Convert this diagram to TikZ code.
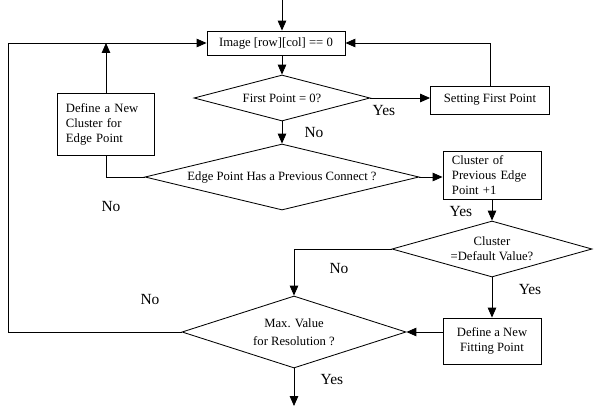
\documentclass[tikz,border=0pt]{standalone}
\usepackage{fontspec}
\setmainfont{Liberation Serif}
\usetikzlibrary{shapes.geometric,arrows.meta}

\begin{document}
\begin{tikzpicture}[x=0.025cm, y=-0.025cm, line width=0.6pt, >={Triangle[length=7pt,width=6pt]},
        box/.style={draw, rectangle, inner sep=2pt, font=\fontsize{9}{10.7}\selectfont, align=center},
        test/.style={draw, diamond, aspect=3.5, inner sep=0pt, font=\fontsize{9}{10.7}\selectfont, align=center},
        ans/.style={font=\fontsize{11}{13}\selectfont}]
    \useasboundingbox (0,0) rectangle (600,410);

    \node[box, minimum width=3.45cm, minimum height=0.6cm] (img) at (276,43) {Image [row][col] == 0};
    \node[test, minimum width=4.4cm, minimum height=1.15cm] (first) at (282,98) {First Point = 0?};
    \node[box, minimum width=2.975cm, minimum height=0.7cm] (setf) at (490,100) {Setting First Point};
    \node[box, minimum width=2.425cm, minimum height=1.55cm, text width=2cm, align=left] (newc) at (106,124) {Define a New\\ Cluster for\\ Edge Point};
    \node[test, minimum width=6.85cm, minimum height=1.65cm] (edge) at (282,177) {Edge Point Has a Previous Connect ?};
    \node[box, minimum width=2.45cm, minimum height=1.2cm, text width=2cm, align=left] (prev) at (492,175) {Cluster of\\ Previous Edge\\ Point +1};
    \node[test, minimum width=5cm, minimum height=1.4cm] (clu) at (492,249) {Cluster\\ =Default Value?};
    \node[box, minimum width=2.45cm, minimum height=1.15cm] (fit) at (492,341) {Define a New\\ Fitting Point};
    \node[test, minimum width=5.6cm, minimum height=1.8cm, font=\fontsize{9}{13}\selectfont] (max) at (294,332) {Max. Value\\ for Resolution ?};

    \coordinate (start) at (282,0);
    \coordinate (lft) at (8,0);
    \coordinate (stop) at (294,406);

    \draw [->] (start) -- (start |- img.north);
    \draw [->] (first.north |- img.south) -- (first.north);
    \draw [->] (first.east) -- (first.east -| setf.west);
    \draw [->] (setf.north) |- (img.east);
    \draw [->] (first.south) -- (edge.north);
    \draw [->] (edge.east) -- (edge.east -| prev.west);
    \draw (edge.west) -| (newc.south);
    \draw [->] (newc.north) -- (newc.north |- img.west);
    \draw [->] (prev.south) -- (clu.north);
    \draw [->] (clu.south) -- (fit.north);
    \draw [->] (clu.west) -| (max.north);
    \draw [->] (fit.west |- max.east) -- (max.east);
    \draw [->] (max.west) -- (max.west -| lft) |- (img.west);
    \draw [->] (max.south) -- (stop);

    \node[ans] (y1) at (384,111) {Yes};
    \node[ans] (n1) at (314,133) {No};
    \node[ans] (n2) at (111,207) {No};
    \node[ans] (y2) at (461,212) {Yes};
    \node[ans] (n3) at (339,269) {No};
    \node[ans] (y3) at (530,290) {Yes};
    \node[ans] (n4) at (150,300) {No};
    \node[ans] (y4) at (332,380) {Yes};
\end{tikzpicture}
\end{document}
